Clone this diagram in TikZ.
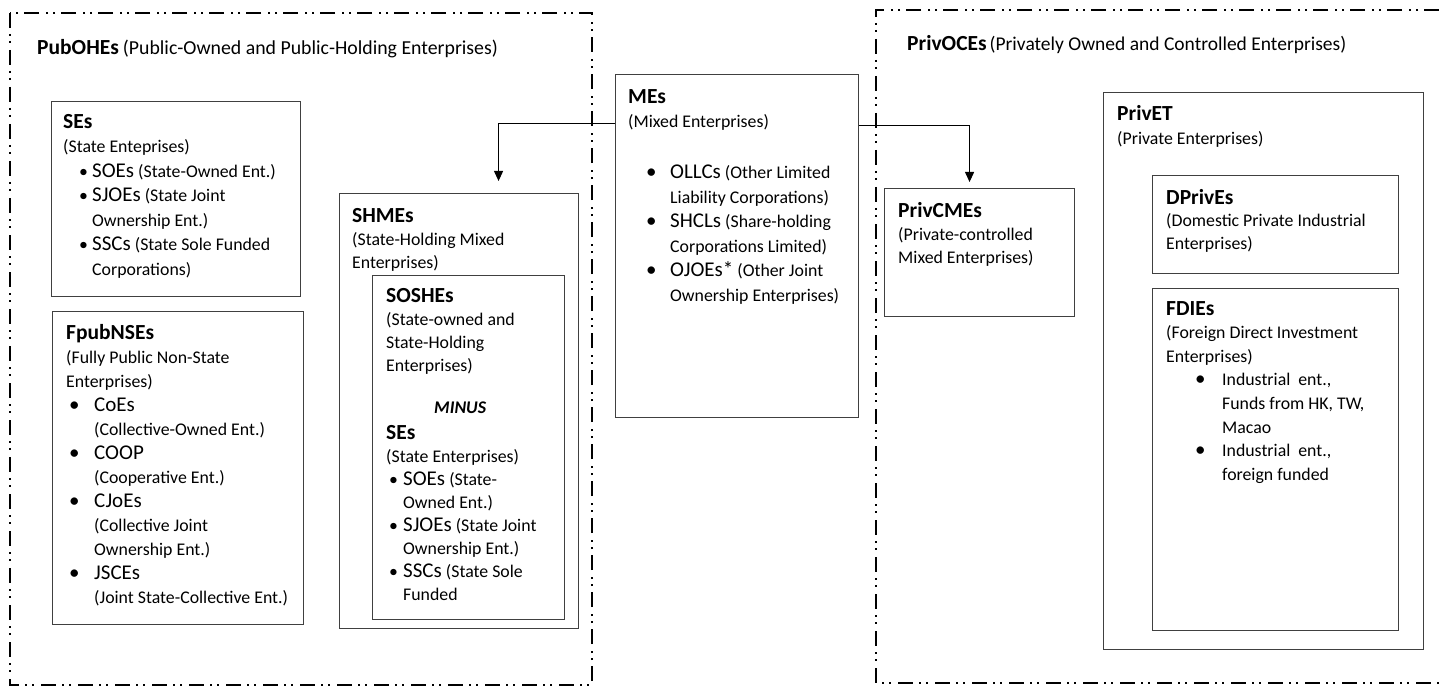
\documentclass[tikz,border=0pt]{standalone}
\usepackage{fontspec}
\setmainfont{Carlito}
\usetikzlibrary{arrows.meta}
\newcommand\fH{\fontsize{21.5}{24.5}\selectfont}
\newcommand\fL{\fontsize{21}{24.5}\selectfont}
\newcommand\fS{\fontsize{17.8}{24.5}\selectfont}
\newcommand\bu[2]{\hspace*{#1pt}\makebox[#2pt][l]{\textbullet}}
\newcommand\bU[2]{\hspace*{#1pt}\makebox[#2pt][l]{\fL\textbullet}}
\newcommand\ind[1]{\hspace*{#1pt}}
\begin{document}
\begin{tikzpicture}[x=1pt,y=-1pt,
  box/.style={draw=black!75,line width=1.1pt,anchor=north west,inner sep=0pt},
  txt/.style={anchor=north west,inner sep=0pt,align=left,font=\fS},
  outer/.style={line width=1.8pt,dash pattern=on 15pt off 6pt on 2pt off 5pt on 2pt off 7pt},
  conn/.style={line width=1pt,-{Triangle[length=10pt,width=9pt]}}]
\useasboundingbox (0,0) rectangle (1439,687);
\fill[white] (0,0) rectangle (1439,687);
% outer dashed frames
\draw[outer] (10,13) rectangle (592,685);
\draw[outer] (1439,10) -- (876,10) -- (876,683) -- (1439,683);
\node[txt] (tpub) at (37,39) {\textbf{\fH PubOHEs} {\fontsize{19.8}{24}\selectfont(Public-Owned and Public-Holding Enterprises)}};
\node[txt] (tpriv) at (907,35) {\textbf{\fH PrivOCEs}\,{\fontsize{19.5}{24}\selectfont(Privately\ Owned and Controlled Enterprises)}};
% boxes
\node[box,minimum width=249pt,minimum height=195pt] (ses) at (51,101) {};
\node[box,minimum width=251pt,minimum height=313pt] (fpub) at (52,311) {};
\node[box,minimum width=239pt,minimum height=435pt] (shmes) at (339,193) {};
\node[box,minimum width=192pt,minimum height=344pt] (soshes) at (372,275) {};
\node[box,minimum width=243pt,minimum height=343pt] (mes) at (615,74) {};
\node[box,minimum width=190pt,minimum height=128pt] (privc) at (884,188) {};
\node[box,minimum width=320pt,minimum height=557pt] (privet) at (1103,92) {};
\node[box,minimum width=246pt,minimum height=98pt] (dpriv) at (1152,175) {};
\node[box,minimum width=246pt,minimum height=342pt] (fdies) at (1152,288) {};
% texts
\node[txt] (tses) at (63,114) {\textbf{\fH SEs}\\
(State Enteprises)\\
\bu{16}{13}{\fL SOEs} (State-Owned Ent.)\\
\bu{16}{13}{\fL SJOEs} (State Joint\\
\ind{29}Ownership Ent.)\\
\bu{16}{13}{\fL SSCs} (State Sole Funded\\
\ind{29}Corporations)};
\node[txt,font=\fontsize{17.8}{24}\selectfont] (tfpub) at (66,324) {\textbf{\fH FpubNSEs}\\
(Fully Public Non-State\\
Enterprises)\\
\bU{3}{25}{\fL CoEs}\\
\ind{28}(Collective-Owned Ent.)\\
\bU{3}{25}{\fL COOP}\\
\ind{28}(Cooperative Ent.)\\
\bU{3}{25}{\fL CJoEs}\\
\ind{28}(Collective Joint\\
\ind{28}Ownership Ent.)\\
\bU{3}{25}{\fL JSCEs}\\
\ind{28}(Joint State-Collective Ent.)};
\node[txt,font=\fontsize{17.8}{23}\selectfont] (tshmes) at (352,208) {\textbf{\fH SHMEs}\\
(State-Holding Mixed\\
Enterprises)};
\node[txt,font=\fontsize{17.8}{23}\selectfont] (tsoshes) at (386,288) {\textbf{\fH SOSHEs}\\
(State-owned and\\
State-Holding\\
Enterprises)\\[19pt]
\ind{48}\textbf{\textit{MINUS}}\\[3pt]
\textbf{\fH SEs}\\
(State Enterprises)\\
\bu{3}{14}{\fL SOEs} (State-\\
\ind{17}Owned Ent.)\\
\bu{3}{14}{\fL SJOEs} (State Joint\\
\ind{17}Ownership Ent.)\\
\bu{3}{14}{\fL SSCs} (State Sole\\
\ind{17}Funded};
\node[txt] (tmes) at (628,89) {\textbf{\fH MEs}\\
(Mixed Enterprises)\\[26.5pt]
\bU{18}{24}{\fL OLLCs} (Other Limited\\
\ind{42}Liability Corporations)\\
\bU{18}{24}{\fL SHCLs} (Share-holding\\
\ind{42}Corporations Limited)\\
\bU{18}{24}{\fL OJOEs*} (Other Joint\\
\ind{42}Ownership Enterprises)};
\node[txt,font=\fontsize{17.8}{23}\selectfont] (tprivc) at (898,202) {\textbf{\fH PrivCMEs}\\
(Private-controlled\\
Mixed Enterprises)};
\node[txt] (tprivet) at (1117,105) {\textbf{\fH PrivET}\\
(Private Enterprises)};
\node[txt,font=\fontsize{17.8}{22.5}\selectfont] (tdpriv) at (1166,189) {\textbf{\fH DPrivEs}\\
(Domestic Private Industrial\\
Enterprises)};
\node[txt,font=\fontsize{17.8}{23.6}\selectfont] (tfdies) at (1166,301) {\textbf{\fH FDIEs}\\
(Foreign Direct Investment\\
Enterprises)\\
\bU{29}{27}Industrial\ \ ent.,\\
\ind{56}Funds\ from HK, TW,\\
\ind{56}Macao\\
\bU{29}{27}Industrial\ \ ent.,\\
\ind{56}foreign funded};
% connectors
\draw[conn] ([yshift=-50pt]mes.north west) -| ([xshift=39.5pt,yshift=12pt]shmes.north);
\draw[conn] ([yshift=-52pt]mes.north east) -| ([xshift=-10pt,yshift=6pt]privc.north);
\end{tikzpicture}
\end{document}
